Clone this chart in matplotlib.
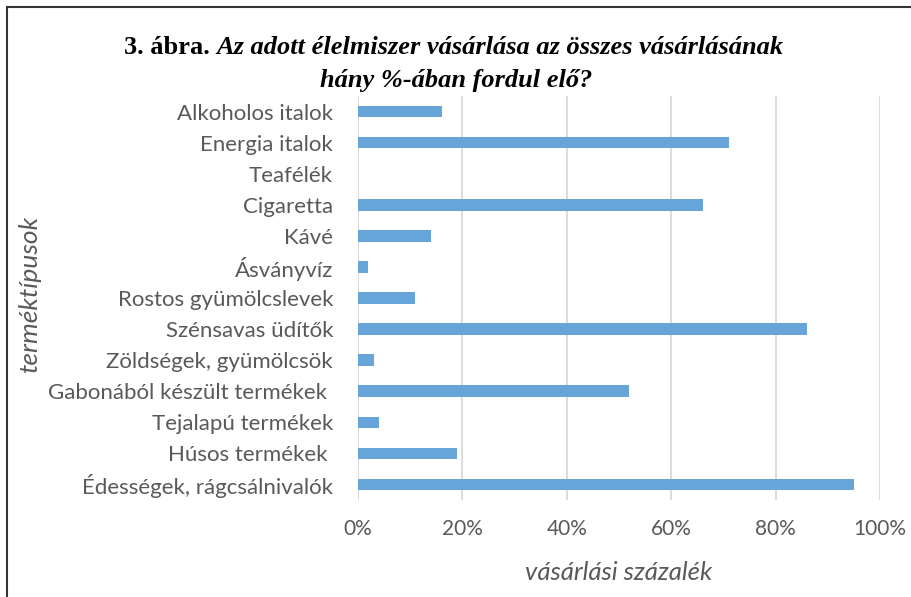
import matplotlib
matplotlib.use("Agg")
import matplotlib.pyplot as plt
from matplotlib.lines import Line2D
from matplotlib.ticker import PercentFormatter

# --- données ---
categories = [
    "Alkoholos italok",
    "Energia italok",
    "Teafélék",
    "Cigaretta",
    "Kávé",
    "Ásványvíz",
    "Rostos gyümölcslevek",
    "Szénsavas üdítők",
    "Zöldségek, gyümölcsök",
    "Gabonából készült termékek ",
    "Tejalapú termékek",
    "Húsos termékek ",
    "Édességek, rágcsálnivalók",
]
values = [16, 71, 0, 66, 14, 2, 11, 86, 3, 52, 4, 19, 95]
xticks = [0, 20, 40, 60, 80, 100]

title_bold = "3. ábra. "
title_italic = "Az adott élelmiszer vásárlása az összes vásárlásának"
title_line2 = "hány %-ában fordul elő?"
xlabel = "vásárlási százalék"
ylabel = "terméktípusok"

W, H = 911, 597
fig = plt.figure(figsize=(W / 100, H / 100), dpi=100)
ax = fig.add_axes([358 / W, 1 - 500 / H, (880 - 358) / W, (500 - 96) / H])

gray = "#595959"
pos = list(range(len(categories)))
ax.barh(pos, values, height=0.37, color="#67a4da", linewidth=0, zorder=3)
ax.set_ylim(len(categories) - 0.5, -0.5)
ax.set_xlim(0, 100)
ax.set_xticks(xticks)
ax.xaxis.set_major_formatter(PercentFormatter(decimals=0))
ax.set_yticks(pos)
ax.set_yticklabels(categories)

ax.grid(axis="x", color="#d9d9d9", linewidth=1.3, zorder=0)
for s in ax.spines.values():
    s.set_visible(False)
ax.tick_params(length=0, labelcolor=gray)
ax.tick_params(axis="x", pad=14, labelsize=15)
ax.tick_params(axis="y", pad=18, labelsize=16)
for lab in ax.get_xticklabels() + ax.get_yticklabels():
    lab.set_family("Lato")

fig.text(619 / W, 1 - 572 / H, xlabel, ha="center", va="center", style="italic",
         fontsize=18.5, color=gray, family="Lato")
fig.text(30 / W, 1 - 294 / H, ylabel, ha="center", va="center", style="italic",
         rotation=90, fontsize=19, color=gray, family="Lato")

# titre : partie en gras droit + partie en gras italique
tfont = dict(family="Liberation Serif", fontsize=19, weight="bold", va="center")
t1 = fig.text(0, 1 - 47 / H, title_bold, **tfont)
t2 = fig.text(0, 1 - 47 / H, title_italic, style="italic", **tfont)
r = fig.canvas.get_renderer()
w1 = t1.get_window_extent(r).width
w2 = t2.get_window_extent(r).width
x0 = (454 - (w1 + w2) / 2) / W
t1.set_x(x0)
t2.set_x(x0 + w1 / W)
fig.text(456 / W, 1 - 80 / H, title_line2, ha="center", style="italic", **tfont)

# cadre (haut et gauche)
fig.add_artist(Line2D([7 / W, 1], [1 - 7 / H, 1 - 7 / H], color="#333333", linewidth=1.5))
fig.add_artist(Line2D([7 / W, 7 / W], [0, 1 - 7 / H], color="#333333", linewidth=1.5))

fig.savefig("out.png", dpi=100)
